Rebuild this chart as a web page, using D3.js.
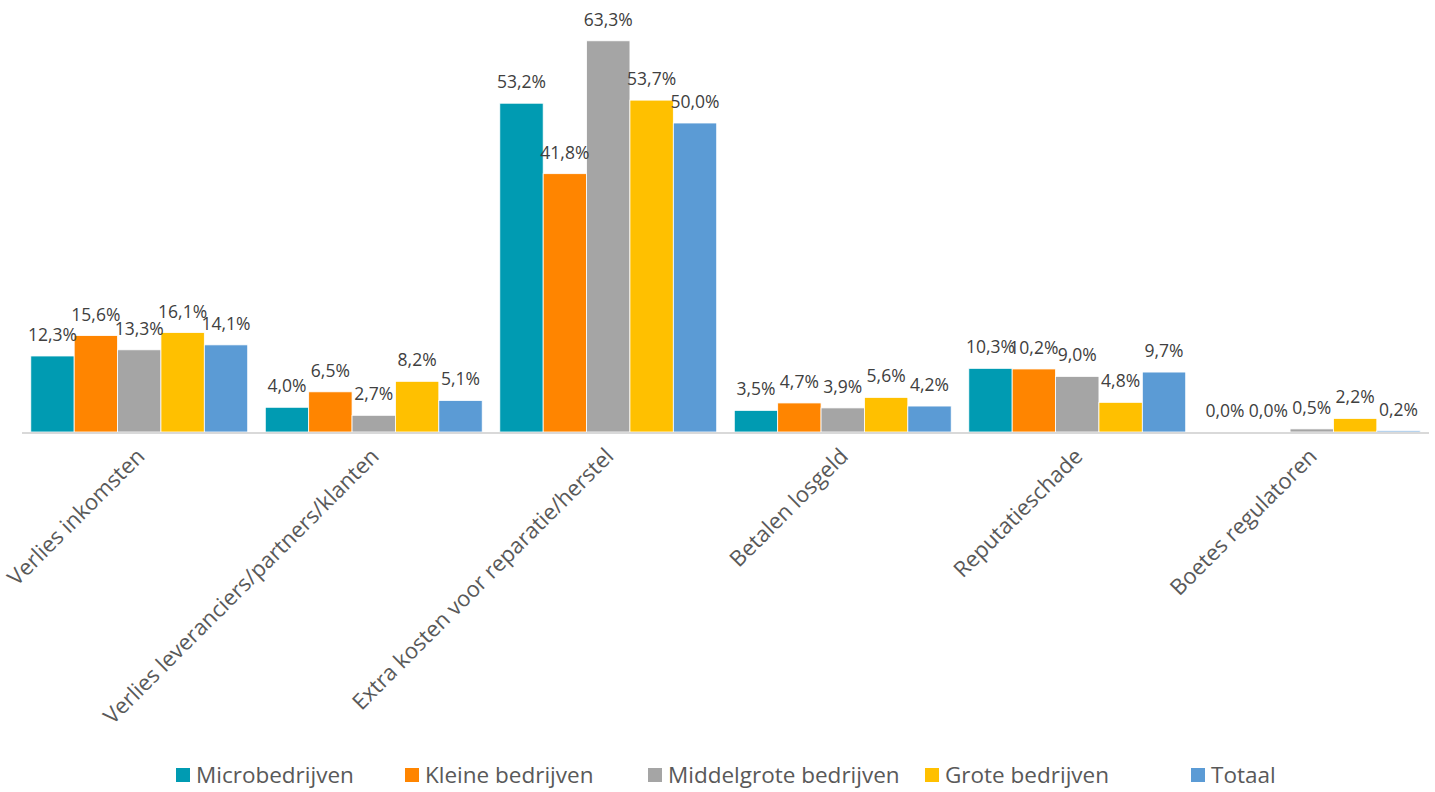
<!DOCTYPE html>
<html>
<head>
<meta charset="utf-8">
<script src="https://cdn.jsdelivr.net/npm/d3@7"></script>
<style>
  body { margin: 0; background: #fff; }
  svg text { font-family: "Open Sans", "Noto Sans", sans-serif; }
</style>
</head>
<body>
<div id="chart"></div>
<script>
var w = 1435,
    h = 792,
    baseY = 432,
    label_gap = 15;

// categories and series
var categories = ['Verlies inkomsten', 'Verlies leveranciers/partners/klanten',
                  'Extra kosten voor reparatie/herstel', 'Betalen losgeld',
                  'Reputatieschade', 'Boetes regulatoren'];
var series = ['Microbedrijven', 'Kleine bedrijven', 'Middelgrote bedrijven', 'Grote bedrijven', 'Totaal'];
var colors = ['#009BB2', '#FF8500', '#A5A5A5', '#FFC000', '#5B9BD5'];

var microValues = [12.3, 4.0, 53.2, 3.5, 10.3, 0.0];
var kleineValues = [15.6, 6.5, 41.8, 4.7, 10.2, 0.0];
var middelValues = [13.3, 2.7, 63.3, 3.9, 9.0, 0.5];
var groteValues = [16.1, 8.2, 53.7, 5.6, 4.8, 2.2];
var totaalValues = [14.1, 5.1, 50.0, 4.2, 9.7, 0.2];

var allValues = [microValues, kleineValues, middelValues, groteValues, totaalValues];

// flatten for drawing
var rows = [];
categories.forEach(function(c, i) {
    series.forEach(function(s, j) {
        rows.push({cat: c, series: s, idx: j, value: allValues[j][i]});
    });
});

var chart = d3.select('#chart').append('svg')
    .attr('width', w)
    .attr('height', h);

var x = d3.scaleBand()
    .domain(categories)
    .range([22, 1429])
    .paddingInner(0.075)
    .paddingOuter(0.0375);

var x1 = d3.scaleBand()
    .domain(series)
    .range([0, x.bandwidth()]);

var y = d3.scaleLinear()
    .domain([0, 70])
    .range([baseY, baseY - 70 * 6.18]);

// bars
chart.selectAll('rect.bar')
    .data(rows)
  .enter().append('rect')
    .attr('class', 'bar')
    .attr('x', function(d){ return x(d.cat) + x1(d.series); })
    .attr('y', function(d){ return y(d.value); })
    .attr('width', x1.bandwidth())
    .attr('height', function(d){ return baseY - y(d.value); })
    .style('fill', function(d){ return colors[d.idx]; })
    .style('stroke', '#fff')
    .style('stroke-width', 0.8);

// axis line
chart.append('line')
    .attr('x1', x.range()[0])
    .attr('x2', x.range()[1])
    .attr('y1', baseY + 1)
    .attr('y2', baseY + 1)
    .style('stroke', '#D9D9D9')
    .style('stroke-width', 2);

// value labels
chart.selectAll('text.val')
    .data(rows)
  .enter().append('text')
    .attr('class', 'val')
    .attr('x', function(d){ return x(d.cat) + x1(d.series) + x1.bandwidth() / 2; })
    .attr('y', function(d){ return y(d.value) - label_gap; })
    .attr('text-anchor', 'middle')
    .style('font-size', '17.5px')
    .style('fill', '#404040')
    .text(function(d){ return d.value.toFixed(1).replace('.', ',') + '%'; });

// category labels, rotated
chart.selectAll('text.cat')
    .data(categories)
  .enter().append('text')
    .attr('class', 'cat')
    .attr('text-anchor', 'end')
    .attr('dy', '0.75em')
    .attr('transform', function(d){
        return 'translate(' + (x(d) + x.bandwidth() / 2 - 5) + ',' + 446 + ') rotate(-45)';
    })
    .style('font-size', '22px')
    .style('fill', '#595959')
    .text(function(d){ return d; });

// legend
var legendX = [176, 405, 648, 925, 1191];
var legend = chart.selectAll('g.legend')
    .data(series)
  .enter().append('g')
    .attr('class', 'legend')
    .attr('transform', function(d, i){ return 'translate(' + legendX[i] + ',775)'; });

legend.append('rect')
    .attr('x', 0)
    .attr('y', -7)
    .attr('width', 14)
    .attr('height', 14)
    .style('fill', function(d, i){ return colors[i]; });

legend.append('text')
    .attr('x', 20)
    .attr('dy', '0.35em')
    .style('font-size', '22.5px')
    .style('fill', '#595959')
    .text(function(d){ return d; });
</script>
</body>
</html>
